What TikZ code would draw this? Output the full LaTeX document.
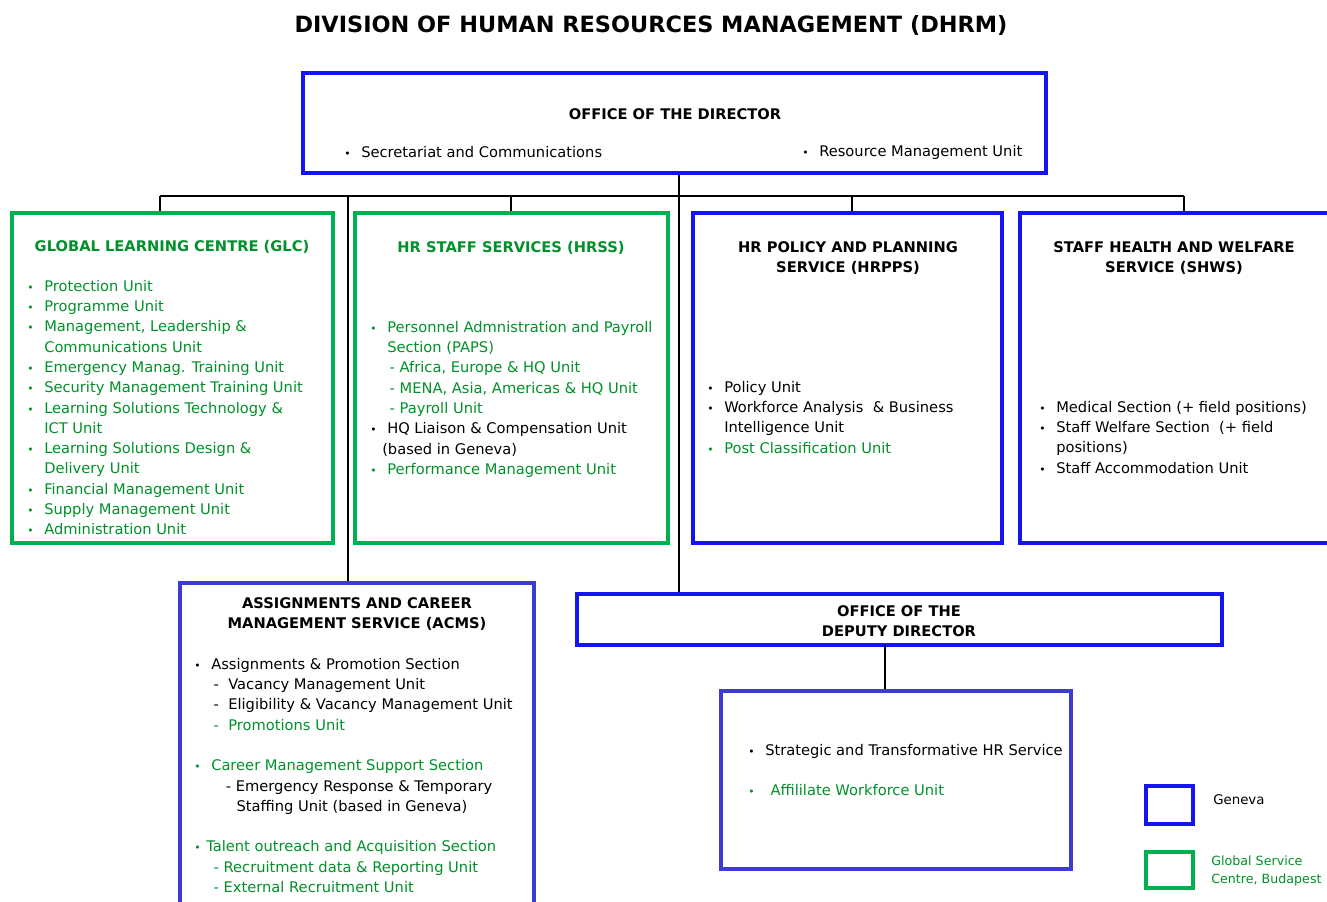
\documentclass[tikz,border=0pt]{standalone}
\usepackage{fontspec}
\setmainfont{DejaVu Sans}
\usepackage{xcolor}
\usepackage{tikz}
\usetikzlibrary{fit}
\definecolor{gblue}{HTML}{1414F0}
\definecolor{pblue}{HTML}{3C3CD2}
\definecolor{gbox}{HTML}{00B050}
\definecolor{gtext}{HTML}{00912A}
\newcommand{\itm}{\makebox[12.75pt][l]{\footnotesize\textbullet}}
\newcommand{\ind}{\hspace*{12.75pt}}
\tikzset{
  gva/.style={draw=gblue, line width=2.5pt, inner sep=0pt},
  acm/.style={draw=pblue, line width=2.5pt, inner sep=0pt},
  gsc/.style={draw=gbox, line width=2.5pt, inner sep=0pt},
  link/.style={draw=black, line width=2pt},
  head/.style={font=\fontsize{11}{15.2}\selectfont\bfseries, align=center, inner sep=0pt},
  lab/.style={font=\fontsize{11}{15.2}\selectfont, align=left, inner sep=0pt, anchor=north west},
}

\begin{document}
\begin{tikzpicture}[x=0.75pt, y=-0.75pt]
  \fill[white] (0,0) rectangle (1327,901);
  \useasboundingbox (0,0) rectangle (1327,901);
  \node[head, font=\fontsize{16.8}{20}\selectfont\bfseries] (ttl) at (651,25) {DIVISION OF HUMAN RESOURCES MANAGEMENT (DHRM)};

  % boxes
  \node[gva, fit={(303,73) (1046,173)}] (dir) {};
  \node[gsc, fit={(12,213) (333,543)}] (glc) {};
  \node[gsc, fit={(355,213) (668,543)}] (hrss) {};
  \node[gva, fit={(693,213) (1002,543)}] (hrpps) {};
  \node[gva, fit={(1020,213) (1340,543)}] (shws) {};
  \node[acm, fit={(180,583) (534,910)}] (acms) {};
  \node[gva, fit={(577,594) (1222,645)}] (ddir) {};
  \node[acm, fit={(721,691) (1071,869)}] (sths) {};

  % lines
  \coordinate (bus) at (679,196);
  \coordinate (jglc) at (160,196);
  \coordinate (jacms) at (348,196);
  \coordinate (jhrss) at (511,196);
  \coordinate (jhrpps) at (852,196);
  \coordinate (jshws) at (1184,196);
  \coordinate (jdd) at (885,645);
  \draw[link] (dir.south -| bus) -- (bus);
  \draw[link] (jglc) -- (jshws);
  \foreach \j/\b in {jglc/glc, jacms/acms, jhrss/hrss, jhrpps/hrpps, jshws/shws}
    \draw[link] (\j) -- (\j |- \b.north);
  \draw[link] (bus) -- (bus |- ddir.north);
  \draw[link] (jdd) -- (jdd |- sths.north);

  % director
  \node[head] (dirt) at (675,114) {OFFICE OF THE DIRECTOR};
  \node[lab, anchor=west] (dir1) at (344,152) {\itm Secretariat and Communications};
  \node[lab, anchor=west] (dir2) at (802,152) {\itm Resource Management Unit};

  % glc
  \node[head, text=gtext] (glct) at (172,247) {GLOBAL LEARNING CENTRE (GLC)};
  \node[lab, text=gtext] (glcl) at (27,280) {\itm Protection Unit\\
    \itm Programme Unit\\
    \itm Management, Leadership \&\\
    \ind Communications Unit\\
    \itm Emergency Manag. Training Unit\\
    \itm Security Management Training Unit\\
    \itm Learning Solutions Technology \&\\
    \ind ICT Unit\\
    \itm Learning Solutions Design \&\\
    \ind Delivery Unit\\
    \itm Financial Management Unit\\
    \itm Supply Management Unit\\
    \itm Administration Unit};

  % hrss
  \node[head, text=gtext] (hrsst) at (511,248) {HR STAFF SERVICES (HRSS)};
  \node[lab, text=gtext] (hrssl) at (370,321) {\itm Personnel Admnistration and Payroll\\
    \ind Section (PAPS)\\
    \ind\,- Africa, Europe \& HQ Unit\\
    \ind\,- MENA, Asia, Americas \& HQ Unit\\
    \ind\,- Payroll Unit\\
    {\color{black}\itm HQ Liaison \& Compensation Unit}\\
    {\color{black}\hspace*{9pt}(based in Geneva)}\\
    \itm Performance Management Unit};

  % hrpps
  \node[head] (hrppst) at (848,258) {HR POLICY AND PLANNING\\SERVICE (HRPPS)};
  \node[lab] (hrppsl) at (707,381) {\itm Policy Unit\\
    \itm Workforce Analysis\ \ \& Business\\
    \ind Intelligence Unit\\
    {\color{gtext}\itm Post Classification Unit}};

  % shws
  \node[head] (shwst) at (1174,258) {STAFF HEALTH AND WELFARE\\SERVICE (SHWS)};
  \node[lab] (shwsl) at (1039,401) {\itm Medical Section (+ field positions)\\
    \itm Staff Welfare Section\ \ (+ field\\
    \ind positions)\\
    \itm Staff Accommodation Unit};

  % acms
  \node[head] (acmst) at (357,614) {ASSIGNMENTS AND CAREER\\MANAGEMENT SERVICE (ACMS)};
  \node[lab] (acmsl) at (194,658) {\itm Assignments \& Promotion Section\\
    \ind\,-\ \ Vacancy Management Unit\\
    \ind\,-\ \ Eligibility \& Vacancy Management Unit\\
    {\color{gtext}\ind\,-\ \ Promotions Unit}\\
    \mbox{}\\
    {\color{gtext}\itm Career Management Support Section}\\
    \ind\hspace*{11pt}- Emergency Response \& Temporary\\
    \ind\hspace*{19pt}Staffing Unit (based in Geneva)\\
    \mbox{}\\
    {\color{gtext}\makebox[9pt][l]{\footnotesize\textbullet}Talent outreach and Acquisition Section}\\
    {\color{gtext}\ind\,- Recruitment data \& Reporting Unit}\\
    {\color{gtext}\ind\,- External Recruitment Unit}};

  % deputy
  \node[head] (ddirt) at (899,621) {OFFICE OF THE\\DEPUTY DIRECTOR};
  \node[lab] (sthsl) at (748,744) {\itm Strategic and Transformative HR Service\\
    \mbox{}\\
    {\color{gtext}\itm\hspace*{4pt}Affililate Workforce Unit}};

  % legend
  \node[gva, line width=2.8pt, fit={(1146,786) (1193,824)}] (lgva) {};
  \node[lab, anchor=west, font=\fontsize{10}{12}\selectfont] (lgvat) at (1213,800) {Geneva};
  \node[gsc, line width=2.8pt, fit={(1146,852) (1193,888)}] (lgsc) {};
  \node[lab, anchor=west, text=gtext, font=\fontsize{9.5}{13}\selectfont] (lgsct) at (1211,871) {Global Service\\Centre, Budapest};
\end{tikzpicture}
\end{document}
